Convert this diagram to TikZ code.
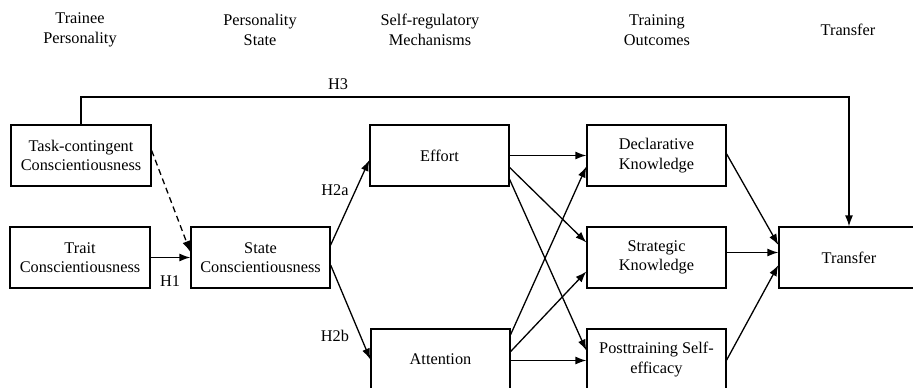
\documentclass[tikz,border=0pt]{standalone}
\usepackage{fontspec}
\setmainfont{Liberation Serif}
\usetikzlibrary{arrows.meta,calc}
\begin{document}
\begin{tikzpicture}[x=1pt,y=-1pt,
  every node/.style={font=\fontsize{16.3}{19.5}\selectfont, align=center, inner sep=0pt},
  box/.style={draw, line width=1.3pt, minimum width=140pt, minimum height=61pt},
  conn/.style={line width=1.3pt, -{Latex[length=11pt,width=8pt]}},
  lbl/.style={}]
\useasboundingbox (0,0) rectangle (913,388);
% headers
\node (h1) at (80,30) {Trainee\\Personality};
\node (h2) at (260,30) {Personality\\State};
\node (h3) at (430,30) {Self-regulatory\\Mechanisms};
\node (h4) at (657,30) {Training\\Outcomes};
\node (h5) at (848,30) {Transfer};
% boxes
\node[box] (task) at (81,155.5) {Task-contingent\\Conscientiousness};
\node[box] (trait) at (80,257.5) {Trait\\Conscientiousness};
\node[box, minimum width=139pt] (state) at (260.5,257.5) {State\\Conscientiousness};
\node[box, minimum width=139pt] (effort) at (439.5,155.5) {Effort};
\node[box, minimum width=139pt] (attention) at (440.5,359.5) {Attention};
\node[box, minimum width=139pt] (decl) at (656.5,155.5) {Declarative\\Knowledge};
\node[box, minimum width=139pt] (strat) at (656.5,257.5) {Strategic\\Knowledge};
\node[box, minimum width=139pt] (post) at (656.5,359.5) {Posttraining Self-\\efficacy};
\node[box] (transfer) at (849,257.5) {Transfer};
% connectors
\draw[conn] (trait.east) -- (state.west);
\draw[conn, dash pattern=on 6pt off 4pt] ($(task.east)+(0,-5)$) -- ($(state.west)+(0,-5.5)$);
\draw[conn] ($(state.east)+(0,-12.5)$) -- ($(effort.west)+(0,4.5)$);
\draw[conn] ($(state.east)+(0,7.5)$) -- (attention.west);
\draw[conn] (effort.east) -- (decl.west);
\draw[conn] ($(effort.east)+(0,12)$) -- ($(strat.west)+(0,-15)$);
\draw[conn] ($(effort.east)+(0,24)$) -- ($(post.west)+(0,-9)$);
\draw[conn] ($(attention.east)+(0,-25)$) -- ($(decl.west)+(0,11)$);
\draw[conn] ($(attention.east)+(0,-8)$) -- ($(strat.west)+(0,14)$);
\draw[conn] ($(attention.east)+(0,1)$) -- ($(post.west)+(0,1)$);
\draw[conn] ($(decl.east)+(0,-1.5)$) -- ($(transfer.west)+(0,-12.5)$);
\draw[conn] ($(strat.east)+(0,-5)$) -- ($(transfer.west)+(0,-5)$);
\draw[conn] ($(post.east)+(0,0.5)$) -- ($(transfer.west)+(0,7.5)$);
\draw[conn] (task.north) -- ++(0,-27.5) coordinate (h3c) -| (transfer.north);
% labels
\node (lH3) at (338,84) {H3};
\node (lH1) at (170,281) {H1};
\node (lH2a) at (335,190) {H2a};
\node (lH2b) at (335,336) {H2b};
\end{tikzpicture}
\end{document}
